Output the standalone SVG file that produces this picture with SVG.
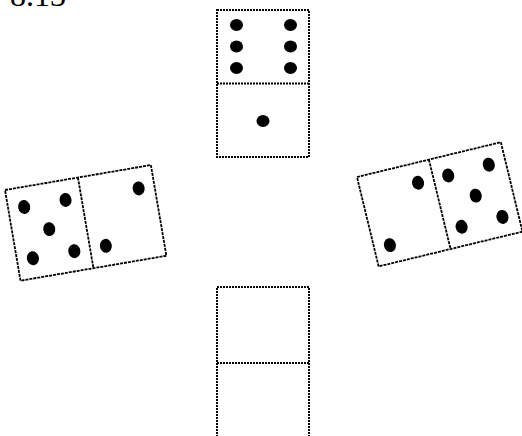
<svg xmlns="http://www.w3.org/2000/svg" width="522" height="436" viewBox="0 0 522 436">
<style>
.edge{fill:#fff;stroke:#000;stroke-width:2;stroke-dasharray:2 1}
.div{fill:none;stroke:#000;stroke-width:2;stroke-dasharray:2 1}
.rot .edge,.rot .div{stroke-width:1.8;stroke-dasharray:3 1}
.pip{fill:#000}
.lbl{font-family:"Liberation Serif",serif;font-size:32px;fill:#000}
</style>
<rect width="522" height="436" fill="#fff"/>
<text class="lbl" x="10" y="6">8.13</text>
<g id="top">
<rect class="edge" x="217" y="10" width="92" height="147"/>
<line class="div" x1="217" y1="83.5" x2="309" y2="83.5"/>
<ellipse class="pip" cx="236.5" cy="25" rx="6.5" ry="6"/>
<ellipse class="pip" cx="290.5" cy="25" rx="6.5" ry="6"/>
<ellipse class="pip" cx="236.5" cy="46.5" rx="6.5" ry="6"/>
<ellipse class="pip" cx="290.5" cy="46.5" rx="6.5" ry="6"/>
<ellipse class="pip" cx="236.5" cy="68" rx="6.5" ry="6"/>
<ellipse class="pip" cx="290.5" cy="68" rx="6.5" ry="6"/>
<ellipse class="pip" cx="263" cy="121" rx="6.5" ry="6"/>
</g>
<g id="bottom">
<rect class="edge" x="217" y="287" width="92" height="160"/>
<line class="div" x1="217" y1="363" x2="309" y2="363"/>
</g>
<g id="left" class="rot" transform="translate(5,190) rotate(-9.7)">
<rect class="edge" x="0" y="0" width="148" height="92"/>
<line class="div" x1="74" y1="0" x2="74" y2="92"/>
<ellipse class="pip" cx="16" cy="20" rx="6" ry="7"/>
<ellipse class="pip" cx="58" cy="20" rx="6" ry="7"/>
<ellipse class="pip" cx="37" cy="46" rx="6" ry="7"/>
<ellipse class="pip" cx="16" cy="72" rx="6" ry="7"/>
<ellipse class="pip" cx="58" cy="72" rx="6" ry="7"/>
<ellipse class="pip" cx="132" cy="21" rx="6" ry="7"/>
<ellipse class="pip" cx="90" cy="72" rx="6" ry="7"/>
</g>
<g id="right" class="rot" transform="translate(357,177) rotate(-13.6)">
<rect class="edge" x="0" y="0" width="148" height="92"/>
<line class="div" x1="74" y1="0" x2="74" y2="92"/>
<ellipse class="pip" cx="58" cy="20" rx="6" ry="7"/>
<ellipse class="pip" cx="16" cy="74" rx="6" ry="7"/>
<ellipse class="pip" cx="89" cy="20" rx="6" ry="7"/>
<ellipse class="pip" cx="131" cy="19" rx="6" ry="7"/>
<ellipse class="pip" cx="111" cy="46" rx="6" ry="7"/>
<ellipse class="pip" cx="90" cy="73" rx="6" ry="7"/>
<ellipse class="pip" cx="132" cy="73" rx="6" ry="7"/>
</g>
<g id="connectors"/>
</svg>
